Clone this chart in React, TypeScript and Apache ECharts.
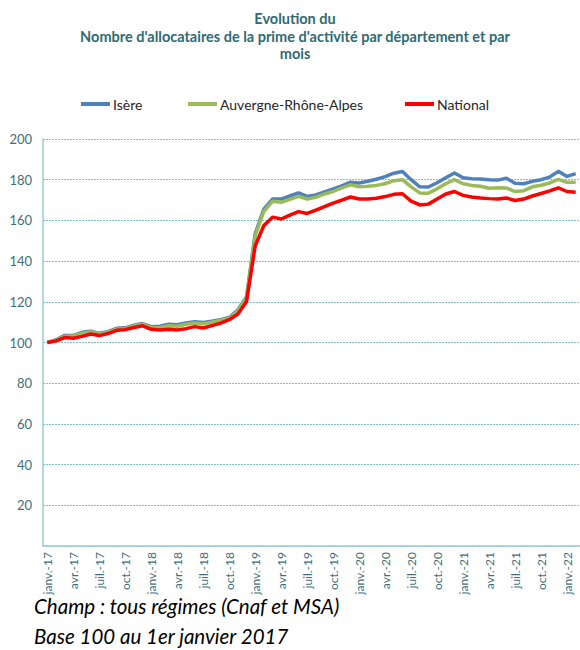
import React, { useEffect, useRef } from "react";
import * as echarts from "echarts";

const MONTHS = ["janv.", "févr.", "mars", "avr.", "mai", "juin", "juil.", "août", "sept.", "oct.", "nov.", "déc."];
const YEARS = ["17", "18", "19", "20", "21", "22"];
const categories: string[] = [];
YEARS.forEach((y) => MONTHS.forEach((m) => categories.push(m + "-" + y)));
const months = categories.slice(0, 62);

const isere = [
  100, 101.2, 103.5, 103.5, 105, 105.5, 104.5, 105.3, 107, 107.2, 108.5, 109.3,
  107.8, 108, 109, 108.7, 109.6, 110.2, 109.8, 110.5, 111.2, 112.3, 116, 122.5,
  153.5, 165.5, 170.5, 170.5, 172, 173.5, 171.8, 172.5, 174, 175.5, 177, 178.8,
  178.4, 179.2, 180.2, 181.5, 183.2, 184, 180, 176.5, 176.4, 178.5, 181, 183.3,
  181, 180.5, 180.4, 180, 179.8, 180.7, 178.3, 178, 179.2, 180, 181.3, 184.1,
  181.6, 183,
];
const ara = [
  100, 101, 103, 103.2, 104.6, 105.2, 104.2, 105, 106.6, 106.8, 108.2, 109,
  107.2, 107.4, 108.2, 108, 109, 109.6, 109.2, 110, 110.8, 112, 115.5, 122,
  152.5, 164.5, 169.4, 168.9, 170.3, 171.8, 170.5, 171.3, 173, 174.2, 176, 177.5,
  176.5, 176.8, 177.2, 178, 179.5, 180, 176.5, 173.5, 173.4, 175.5, 178, 180,
  178, 177.2, 176.8, 175.8, 176, 175.9, 174.2, 174.6, 176.5, 177.3, 178.4, 180.2,
  178.7, 178.7,
];
const national = [
  100, 100.8, 102.4, 102.1, 103, 104.2, 103.4, 104.4, 106, 106.3, 107.4, 108.2,
  106.5, 106.1, 106.5, 106.2, 106.8, 107.8, 107.1, 108.3, 109.5, 111.2, 114, 120.2,
  147.5, 157.5, 161.6, 160.7, 162.6, 164.3, 163.4, 165, 166.8, 168.5, 170, 171.5,
  170.5, 170.5, 170.9, 171.7, 172.8, 173.1, 169.5, 167.6, 168, 170.5, 173, 174.2,
  172.3, 171.5, 171, 170.7, 170.5, 171, 169.8, 170.5, 172, 173.2, 174.5, 176,
  174.2, 173.8,
];

const seriesNames = ["Isère", "Auvergne-Rhône-Alpes", "National"];
const seriesColors = ["#4F81BD", "#9BBB59", "#FF0000"];
const seriesData = [isere, ara, national];

const TEAL = "#2E6B73";
const AXIS = "#9CCBD3";
const LABEL = "#3F6E78";
const FONT = "Lato, 'Open Sans', sans-serif";

export default function App() {
  const ref = useRef<HTMLDivElement>(null);
  useEffect(() => {
    if (!ref.current) return;
    const chart = echarts.init(ref.current, undefined, { renderer: "svg" });
    const legendLefts = [81, 188, 405];
    chart.setOption({
      animation: false,
      backgroundColor: "#ffffff",
      textStyle: { fontFamily: FONT },
      title: {
        text: "Evolution du\nNombre d'allocataires de la prime d'activité par département et par\nmois",
        left: 290,
        top: 5,
        textAlign: "center",
        textStyle: {
          fontFamily: FONT,
          fontSize: 14.5,
          fontWeight: "bold",
          color: TEAL,
          lineHeight: 17.5,
        },
      },
      legend: seriesNames.map((n, i) => ({
        data: [n],
        left: legendLefts[i],
        top: 97,
        padding: 0,
        icon: "rect",
        itemWidth: 29,
        itemHeight: 4,
        itemGap: 0,
        textStyle: { fontFamily: FONT, fontSize: 14, color: "#262626", padding: [0, 0, 0, -2] },
      })),
      grid: { left: 43, top: 139, width: 539, height: 407, containLabel: false },
      xAxis: {
        type: "category",
        data: months,
        boundaryGap: true,
        axisLine: { lineStyle: { color: AXIS, width: 1.5 } },
        axisTick: { interval: 2, length: 6, lineStyle: { color: AXIS, width: 1.5 } },
        axisLabel: {
          interval: 2,
          rotate: 90,
          margin: 6,
          fontFamily: FONT,
          fontSize: 12,
          color: LABEL,
        },
      },
      yAxis: {
        type: "value",
        min: 0,
        max: 200,
        interval: 20,
        axisLine: { show: true, lineStyle: { color: AXIS, width: 1.5 } },
        axisTick: { show: false },
        axisLabel: {
          fontFamily: FONT,
          fontSize: 13,
          color: LABEL,
          margin: 11,
          formatter: (v: number) => (v === 0 ? "" : String(v)),
        },
        splitLine: { show: true, lineStyle: { color: "#7FBFC9", type: [2, 1], width: 1 } },
      },
      series: seriesNames.map((n, i) => ({
        name: n,
        type: "line",
        data: seriesData[i],
        symbol: "none",
        z: 3 + i,
        lineStyle: { color: seriesColors[i], width: 3.5, join: "round" },
        itemStyle: { color: seriesColors[i] },
      })),
      graphic: [
        {
          type: "text",
          left: 34,
          top: 596,
          style: {
            text: "Champ : tous régimes (Cnaf et MSA)",
            font: "italic 20.5px " + FONT,
            fill: "#000000",
          },
        },
        {
          type: "text",
          left: 34,
          top: 626,
          style: {
            text: "Base 100 au 1er janvier 2017",
            font: "italic 20.5px " + FONT,
            fill: "#000000",
          },
        },
      ],
    });
    return () => chart.dispose();
  }, []);
  return (
    <div
      ref={ref}
      style={{ position: "fixed", left: 0, top: 0, width: 580, height: 650, overflow: "hidden" }}
    />
  );
}
